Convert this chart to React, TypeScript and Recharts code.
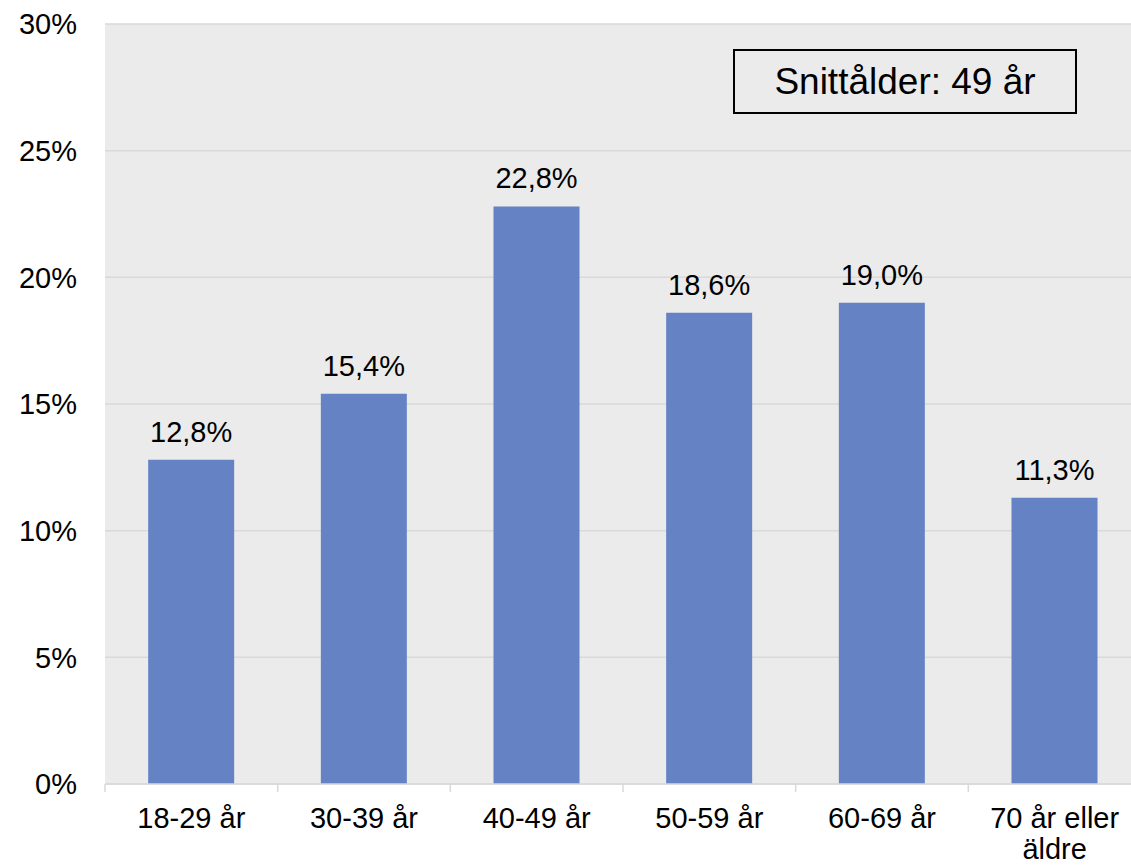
import { Bar, BarChart, CartesianGrid, LabelList, XAxis, YAxis } from "recharts"

const ageGroups = ["18-29 år", "30-39 år", "40-49 år", "50-59 år", "60-69 år", "70 år eller äldre"]
const shares = [12.8, 15.4, 22.8, 18.6, 19.0, 11.3]
const yTicks = [0, 5, 10, 15, 20, 25, 30]
const averageAgeNote = "Snittålder: 49 år"

const data = ageGroups.map((group, i) => ({ group, share: shares[i] }))

const FONT = '"Liberation Sans", Arial, sans-serif'

// simple greedy wrap, Excel breaks "70 år eller äldre" after "eller"
function wrap(text: string, maxChars: number) {
  const lines: string[] = []
  let cur = ""
  for (const w of text.split(" ")) {
    const next = cur ? cur + " " + w : w
    if (next.length > maxChars && cur) {
      lines.push(cur)
      cur = w
    } else {
      cur = next
    }
  }
  if (cur) lines.push(cur)
  return lines
}

function CategoryTick(props: any) {
  const { x, y, payload } = props
  const half = payload?.offset ?? 86
  const lines = wrap(String(payload.value), 11)
  return (
    <g>
      <line x1={x - half} x2={x - half} y1={y} y2={y + 8} stroke="#d9d9d9" strokeWidth={1.5} />
      <text x={x} y={y} textAnchor="middle" fontSize={29} fill="#000" fontFamily={FONT}>
        {lines.map((l, i) => (
          <tspan key={i} x={x} dy={i === 0 ? 44 : 31}>
            {l}
          </tspan>
        ))}
      </text>
    </g>
  )
}

export default function App() {
  return (
    <div
      style={{
        position: "absolute",
        left: 0,
        top: 0,
        width: 1131,
        height: 865,
        overflow: "hidden",
        background: "#fff",
        fontFamily: FONT,
      }}
    >
      <BarChart
        width={1141}
        height={865}
        data={data}
        margin={{ top: 24, right: 0, left: 0, bottom: 0 }}
        barCategoryGap="25%"
      >
        <CartesianGrid vertical={false} stroke="#d9d9d9" strokeWidth={1.5} fill="#ebebeb" />
        <XAxis
          dataKey="group"
          height={81}
          tickSize={0}
          tickMargin={0}
          axisLine={{ stroke: "#d9d9d9", strokeWidth: 1.5 }}
          tickLine={false}
          interval={0}
          tick={<CategoryTick />}
        />
        <YAxis
          width={105}
          domain={[0, 30]}
          ticks={yTicks}
          tickFormatter={(v) => `${v}%`}
          axisLine={false}
          tickLine={false}
          tickSize={0}
          tickMargin={28}
          tick={{ fontSize: 29, fill: "#000", fontFamily: FONT }}
        />
        <Bar dataKey="share" fill="#6482c4" isAnimationActive={false}>
          <LabelList
            dataKey="share"
            position="top"
            offset={18}
            formatter={(v: any) => `${Number(v).toFixed(1).replace(".", ",")}%`}
            style={{ fontSize: 29, fill: "#000", fontFamily: FONT }}
          />
        </Bar>
      </BarChart>
      <div
        style={{
          position: "absolute",
          left: 733,
          top: 49,
          width: 344,
          height: 65,
          boxSizing: "border-box",
          border: "2px solid #000",
          textAlign: "center",
          lineHeight: "61px",
          fontSize: 37,
          color: "#000",
        }}
      >
        {averageAgeNote}
      </div>
    </div>
  )
}
